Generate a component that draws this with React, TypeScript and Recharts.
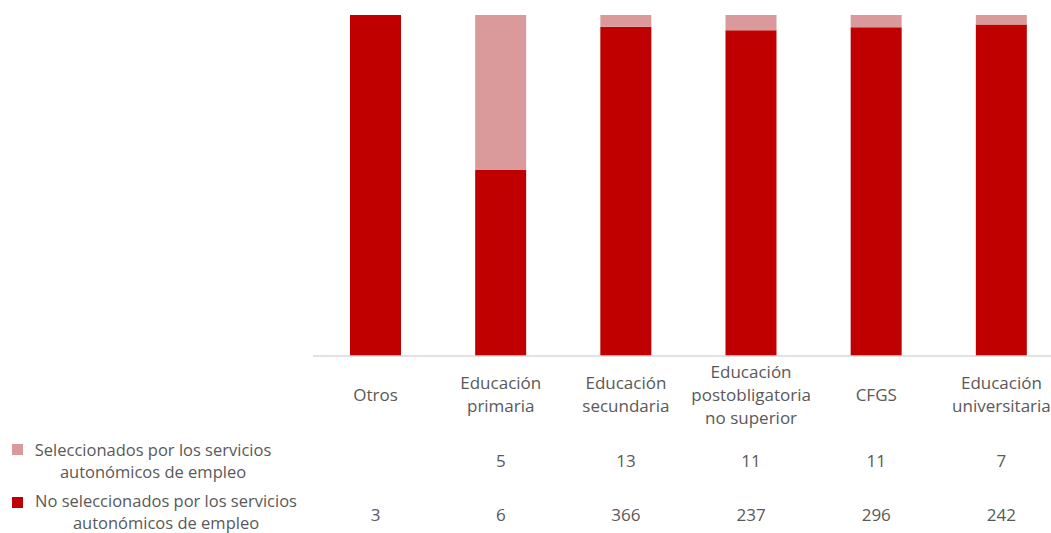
import React from "react";
import { BarChart, Bar, XAxis, YAxis } from "recharts";

const categories = [
  "Otros",
  "Educación primaria",
  "Educación secundaria",
  "Educación postobligatoria no superior",
  "CFGS",
  "Educación universitaria",
];
// how each category label wraps in the table header
const categoryLines = [
  ["Otros"],
  ["Educación", "primaria"],
  ["Educación", "secundaria"],
  ["Educación", "postobligatoria", "no superior"],
  ["CFGS"],
  ["Educación", "universitaria"],
];
const seleccionados = [0, 5, 13, 11, 11, 7];
const noSeleccionados = [3, 6, 366, 237, 296, 242];

const SEL_LABEL = ["Seleccionados por los servicios", "autonómicos de empleo"];
const NOSEL_LABEL = ["No seleccionados por los servicios", "autonómicos de empleo"];

const DARK = "#C00000";
const LIGHT = "#DA9A9B";
const TEXT = "#595959";
const FONT = "'Open Sans', Roboto, sans-serif";
const FS = 17;
const LEGEND_FS = 16.5;

const data = categories.map((name, i) => ({
  name,
  idx: i,
  sel: seleccionados[i],
  nosel: noSeleccionados[i],
}));

const TableTick = (props: any) => {
  const { x, y, payload } = props;
  const i = payload.index ?? categories.indexOf(payload.value);
  const lines = categoryLines[i] || [payload.value];
  const lh = 23;
  const mid = y + 38;
  const start = mid - ((lines.length - 1) * lh) / 2;
  return (
    <g fontFamily={FONT} fontSize={FS} fill={TEXT}>
      {lines.map((l, k) => (
        <text key={k} x={x} y={start + k * lh} textAnchor="middle" dominantBaseline="central" fill={TEXT}>
          {l}
        </text>
      ))}
      {seleccionados[i] > 0 && (
        <text x={x} y={y + 104} textAnchor="middle" dominantBaseline="central" fill={TEXT}>
          {seleccionados[i]}
        </text>
      )}
      <text x={x} y={y + 158} textAnchor="middle" dominantBaseline="central" fill={TEXT}>
        {noSeleccionados[i]}
      </text>
    </g>
  );
};

export default function App() {
  return (
    <div style={{ position: "absolute", left: 0, top: 0, width: 1051, height: 533, overflow: "hidden", background: "#fff" }}>
      <BarChart
        width={1064}
        height={533}
        data={data}
        stackOffset="expand"
        barSize={51}
        margin={{ top: 15, right: 0, bottom: 0, left: 313 }}
      >
        <XAxis
          dataKey="name"
          axisLine={{ stroke: "#D9D9D9", strokeWidth: 1.5 }}
          tickLine={false}
          tickSize={0}
          tickMargin={0}
          height={177}
          interval={0}
          tick={<TableTick />}
        />
        <YAxis hide domain={[0, 1]} />
        <Bar dataKey="nosel" stackId="a" fill={DARK} isAnimationActive={false} />
        <Bar dataKey="sel" stackId="a" fill={LIGHT} isAnimationActive={false} />
      </BarChart>
      <svg
        width={320}
        height={108}
        style={{ position: "absolute", left: 0, top: 425 }}
        fontFamily={FONT}
        fontSize={LEGEND_FS}
      >
        <rect x={12} y={19} width={11} height={11} fill={LIGHT} />
        <text x={153} y={24} textAnchor="middle" dominantBaseline="central" fill={TEXT}>
          {SEL_LABEL[0]}
        </text>
        <text x={153} y={46} textAnchor="middle" dominantBaseline="central" fill={TEXT}>
          {SEL_LABEL[1]}
        </text>
        <rect x={12} y={72} width={11} height={11} fill={DARK} />
        <text x={166} y={75.5} textAnchor="middle" dominantBaseline="central" fill={TEXT}>
          {NOSEL_LABEL[0]}
        </text>
        <text x={166} y={97.5} textAnchor="middle" dominantBaseline="central" fill={TEXT}>
          {NOSEL_LABEL[1]}
        </text>
      </svg>
    </div>
  );
}
